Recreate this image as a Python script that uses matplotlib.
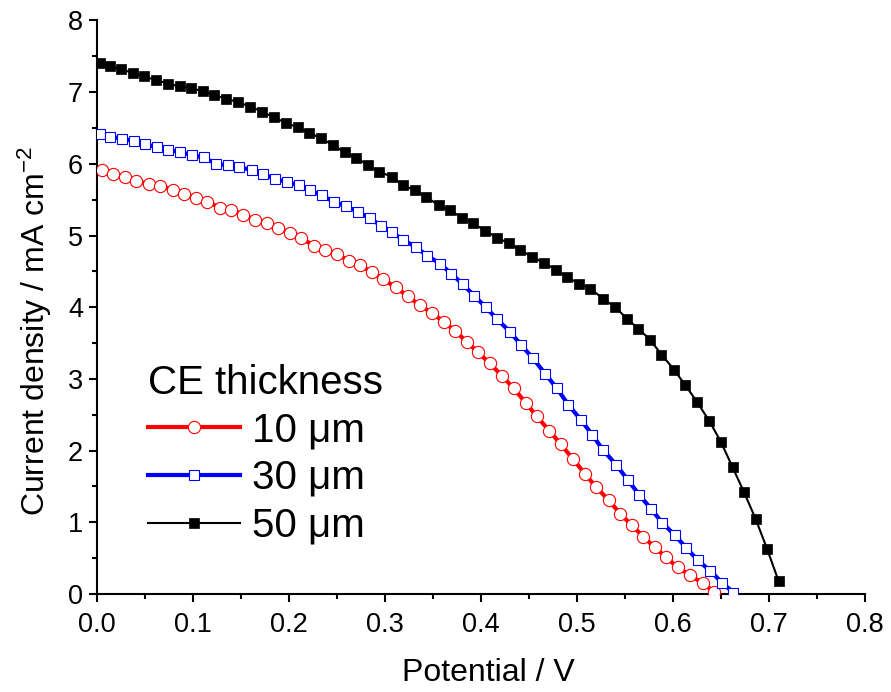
import matplotlib
matplotlib.use("Agg")
import matplotlib.pyplot as plt
from matplotlib.ticker import MultipleLocator

plt.rcParams['font.family'] = ['Liberation Sans', 'DejaVu Sans']
plt.rcParams['mathtext.fontset'] = 'custom'
plt.rcParams['mathtext.rm'] = 'Liberation Sans'
plt.rcParams['mathtext.it'] = 'Liberation Sans:italic'
plt.rcParams['mathtext.default'] = 'regular'

# ---- data ----
v_10 = [0.005, 0.017, 0.029, 0.041, 0.054, 0.066, 0.079, 0.091, 0.103, 0.115,
        0.128, 0.140, 0.152, 0.165, 0.177, 0.189, 0.201, 0.213, 0.226, 0.238,
        0.250, 0.262, 0.274, 0.286, 0.298, 0.311, 0.324, 0.336, 0.349, 0.361,
        0.373, 0.385, 0.397, 0.409, 0.422, 0.434, 0.447, 0.458, 0.471, 0.483,
        0.496, 0.508, 0.520, 0.533, 0.545, 0.557, 0.569, 0.581, 0.593, 0.605,
        0.618, 0.631, 0.643]
j_10 = [5.92, 5.86, 5.81, 5.76, 5.72, 5.69, 5.64, 5.58, 5.52, 5.47,
        5.39, 5.36, 5.29, 5.22, 5.17, 5.10, 5.04, 4.96, 4.86, 4.80,
        4.74, 4.65, 4.59, 4.49, 4.39, 4.28, 4.15, 4.03, 3.92, 3.80,
        3.67, 3.52, 3.37, 3.22, 3.04, 2.87, 2.66, 2.48, 2.28, 2.09,
        1.88, 1.68, 1.49, 1.31, 1.12, 0.96, 0.80, 0.65, 0.51, 0.37,
        0.26, 0.15, 0.03]

v_30 = [0.003, 0.014, 0.026, 0.038, 0.050, 0.062, 0.074, 0.086, 0.099, 0.111,
        0.124, 0.136, 0.148, 0.161, 0.173, 0.185, 0.198, 0.210, 0.222, 0.234,
        0.247, 0.259, 0.272, 0.284, 0.296, 0.307, 0.319, 0.332, 0.344, 0.357,
        0.369, 0.381, 0.393, 0.405, 0.417, 0.430, 0.442, 0.454, 0.467, 0.479,
        0.491, 0.504, 0.516, 0.527, 0.541, 0.553, 0.565, 0.577, 0.589, 0.602,
        0.614, 0.626, 0.639, 0.651, 0.663]
j_30 = [6.42, 6.38, 6.35, 6.32, 6.28, 6.23, 6.19, 6.17, 6.12, 6.09,
        6.00, 5.98, 5.96, 5.91, 5.86, 5.79, 5.75, 5.70, 5.63, 5.56,
        5.47, 5.41, 5.33, 5.24, 5.14, 5.05, 4.94, 4.84, 4.72, 4.61,
        4.47, 4.32, 4.16, 4.00, 3.83, 3.66, 3.47, 3.29, 3.07, 2.87,
        2.64, 2.43, 2.22, 2.01, 1.80, 1.59, 1.38, 1.19, 0.99, 0.82,
        0.64, 0.47, 0.32, 0.16, 0.02]

v_50 = [0.003, 0.014, 0.025, 0.037, 0.049, 0.061, 0.074, 0.086, 0.098, 0.110,
        0.122, 0.134, 0.147, 0.159, 0.172, 0.184, 0.197, 0.209, 0.221, 0.233,
        0.246, 0.258, 0.270, 0.282, 0.294, 0.307, 0.319, 0.331, 0.343, 0.356,
        0.368, 0.380, 0.392, 0.404, 0.417, 0.429, 0.441, 0.453, 0.466, 0.478,
        0.490, 0.502, 0.514, 0.527, 0.540, 0.552, 0.564, 0.576, 0.588, 0.601,
        0.613, 0.625, 0.638, 0.650, 0.662, 0.674, 0.686, 0.698, 0.710]
j_50 = [7.40, 7.36, 7.32, 7.27, 7.22, 7.17, 7.12, 7.08, 7.06, 7.01,
        6.96, 6.91, 6.86, 6.80, 6.73, 6.65, 6.57, 6.51, 6.43, 6.36,
        6.26, 6.16, 6.08, 5.99, 5.89, 5.82, 5.70, 5.63, 5.54, 5.42,
        5.35, 5.25, 5.17, 5.07, 4.97, 4.89, 4.80, 4.70, 4.62, 4.52,
        4.42, 4.33, 4.26, 4.12, 4.00, 3.84, 3.70, 3.55, 3.34, 3.13,
        2.91, 2.68, 2.41, 2.12, 1.77, 1.42, 1.05, 0.63, 0.18]

labels = ["10 μm", "30 μm", "50 μm"]
legend_title = "CE thickness"
x_label = "Potential / V"
y_label = "Current density / mA cm$^{-2}$"

fig = plt.figure(figsize=(8.91, 6.92), dpi=100)
ax = fig.add_axes([0.1089, 0.1416, 0.8619, 0.8288])

ax.plot(v_10, j_10, color='#ff0000', lw=3.0, marker='o', ms=8.8,
        mfc='white', mec='#ff0000', mew=0.8, label=labels[0], zorder=3)
ax.plot(v_30, j_30, color='#0000ff', lw=3.0, marker='s', ms=7.6,
        mfc='white', mec='#0000ff', mew=0.8, label=labels[1], zorder=3)
ax.plot(v_50, j_50, color='black', lw=1.5, marker='s', ms=7.8,
        mfc='black', mec='black', mew=0.5, label=labels[2], zorder=3)

ax.set_xlim(0.0, 0.8)
ax.set_ylim(0, 8)
ax.xaxis.set_major_locator(MultipleLocator(0.1))
ax.xaxis.set_minor_locator(MultipleLocator(0.05))
ax.yaxis.set_major_locator(MultipleLocator(1))
ax.yaxis.set_minor_locator(MultipleLocator(0.5))
ax.set_xticklabels([f"{t:.1f}" for t in ax.get_xticks()])

for s in ['top', 'right']:
    ax.spines[s].set_visible(False)
for s in ['left', 'bottom']:
    ax.spines[s].set_linewidth(1.5)

ax.tick_params(which='major', direction='out', length=6, width=1.5,
               labelsize=19.5, pad=4)
ax.tick_params(axis='x', which='major', pad=7)
ax.tick_params(which='minor', direction='out', length=3.5, width=1.5)

ax.set_xlabel(x_label, fontsize=23, labelpad=14)
ax.xaxis.label.set_x(0.51)
ax.set_ylabel(y_label, fontsize=23, labelpad=10)
ax.yaxis.label.set_y(0.458)

leg = ax.legend(title=legend_title, loc='lower left',
                bbox_to_anchor=(0.045, 0.058), frameon=False,
                fontsize=29, title_fontsize=29, handlelength=2.3,
                handletextpad=0.3, labelspacing=0.24, borderaxespad=0)
leg._legend_box.align = "left"

fig.savefig("out.png", dpi=100)
